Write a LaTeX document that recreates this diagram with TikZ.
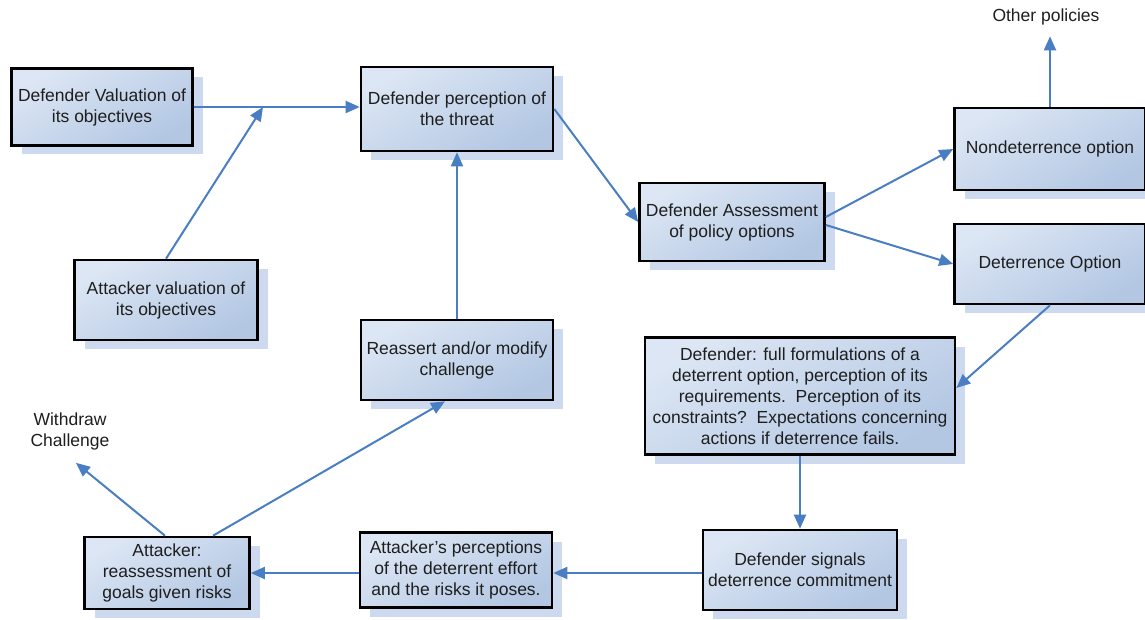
\documentclass[tikz,border=0pt]{standalone}
\usepackage{fontspec}
\setmainfont{Liberation Sans}
\usetikzlibrary{arrows.meta,shadows}

\definecolor{boxlight}{HTML}{DCE6F4}
\definecolor{boxdark}{HTML}{B3C7E3}
\definecolor{shadowblue}{HTML}{CCD9EE}
\definecolor{arrowblue}{HTML}{4A7EC2}
\definecolor{textgray}{HTML}{1E1E1E}

\begin{document}
\begin{tikzpicture}[x=1pt,y=-1pt,
		font=\fontsize{17.5}{21}\selectfont,
		box/.style={draw=black, line width=2.6pt, rectangle, align=center,
			text=textgray, inner sep=1pt,
			top color=boxlight, bottom color=boxdark, shading angle=30,
			general shadow={fill=shadowblue, shadow xshift=10pt, shadow yshift=-9pt}},
		lbl/.style={text=textgray, align=center, inner sep=1pt},
		link/.style={draw=arrowblue, line width=2pt,
			-{Triangle[length=14pt,width=12pt]}}]
		
		\useasboundingbox (0,0) rectangle (1145,620);
		
		% defender side
		\node[box, minimum width=181, minimum height=77] (DefVal) at (102,107)
			{Defender Valuation of\\its objectives};
		\node[box, minimum width=192, minimum height=84] (DefPerc) at (457,109)
			{Defender perception of\\the threat};
		\node[box, minimum width=183, minimum height=80] (AttVal) at (166,300)
			{Attacker valuation of\\its objectives};
		\node[box, minimum width=185, minimum height=78] (Assess) at (732,222)
			{Defender Assessment\\of policy options};
		\node[box, minimum width=191, minimum height=82] (NonDet) at (1050,149)
			{Nondeterrence option};
		\node[box, minimum width=191, minimum height=80] (DetOpt) at (1050,264)
			{Deterrence Option};
		\node[box, minimum width=310, minimum height=117] (DefFull) at (800,396)
			{Defender: full formulations of a\\deterrent option, perception of its\\requirements.\ \ Perception of its\\constraints?\ \ Expectations concerning\\actions if deterrence fails.};
		
		% attacker side
		\node[box, minimum width=194, minimum height=80] (Signals) at (800,570)
			{Defender signals\\deterrence commitment};
		\node[box, minimum width=192, minimum height=75] (AttPerc) at (456,570)
			{Attacker's perceptions\\of the deterrent effort\\and the risks it poses.};
		\node[box, minimum width=165, minimum height=72] (Reassess) at (167,573)
			{Attacker:\\reassessment of\\goals given risks};
		\node[box, minimum width=192, minimum height=80] (Reassert) at (457,360)
			{Reassert and/or modify\\challenge};
		
		\node[lbl] (Other) at (1046,17) {Other policies};
		\node[lbl] (Withdraw) at (70,431) {Withdraw\\Challenge};
		\coordinate (Join) at (263,107);
		
		\draw[link] (DefVal.east) -- ([yshift=2]DefPerc.west);
		\draw[link] (AttVal.north) -- (Join);
		\draw[link] (DefPerc.east) -- (Assess.west);
		\draw[link] ([yshift=5]Assess.east) -- (NonDet.west);
		\draw[link] ([yshift=-3]Assess.east) -- (DetOpt.west);
		\draw[link] (NonDet.north) -- ([xshift=4,yshift=-10]Other.south);
		\draw[link] (DetOpt.south) -- ([yshift=8]DefFull.east);
		\draw[link] (DefFull.south) -- (Signals.north);
		\draw[link] ([yshift=-3]Signals.west) -- ([yshift=-3]AttPerc.east);
		\draw[link] ([yshift=-3]AttPerc.west) -- (Reassess.east);
		\draw[link] ([xshift=46]Reassess.north) -- ([xshift=-12]Reassert.south);
		\draw[link] ([xshift=-2]Reassess.north) -- ([xshift=6,yshift=-12]Withdraw.south);
		\draw[link] (Reassert.north) -- (DefPerc.south);
		
		\end{tikzpicture}
\end{document}
